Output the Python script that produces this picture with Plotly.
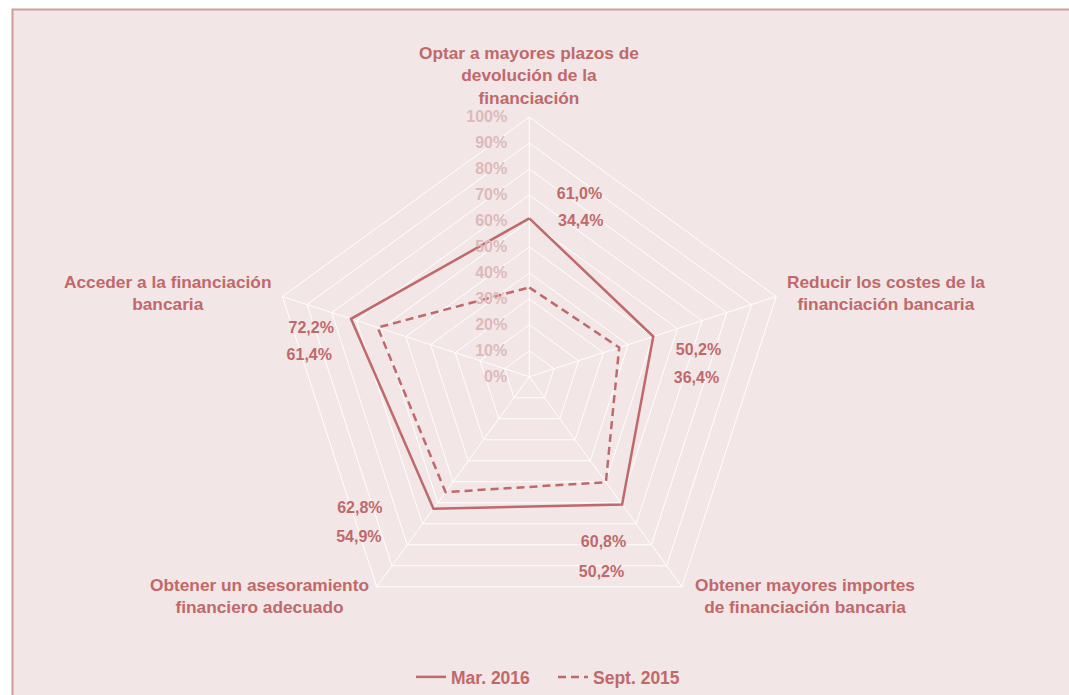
import math
import plotly.graph_objects as go

# ---- data ----
categories = [
    "Optar a mayores plazos de<br>devolución de la<br>financiación",
    "Reducir los costes de la<br>financiación bancaria",
    "Obtener mayores importes<br>de financiación bancaria",
    "Obtener un asesoramiento<br>financiero adecuado",
    "Acceder a la financiación<br>bancaria",
]
series_names = ["Mar. 2016", "Sept. 2015"]
mar_2016 = [61.0, 50.2, 60.8, 62.8, 72.2]
sept_2015 = [34.4, 36.4, 50.2, 54.9, 61.4]
radial_ticks = [0, 10, 20, 30, 40, 50, 60, 70, 80, 90, 100]
radial_ticktext = [f"{v}%" for v in radial_ticks]

# ---- label placement (style) ----
cat_label_r = [116.0, 141.0, 135.6, 133.7, 142.9]
cat_label_theta = [0, 76.7, 128.6, 230.8, 283.1]
mar_label_r = [72.8, 65.9, 70.3, 82.7, 86.0]
mar_label_theta = [15.4, 81.4, 156.0, 232.1, 282.4]
sept_label_r = [62.7, 64.4, 80.6, 90.5, 85.1]
sept_label_theta = [18.4, 90.6, 159.8, 226.5, 275.3]

COLOR = "#C0696A"
BG = "#F2E6E6"
FONT = "Liberation Sans, Arial, sans-serif"
W, H = 1069, 695
cx, cy, R = 529.3, 377.3, 260.0
dom_x = [(cx - R) / W, (cx + R) / W]
dom_y = [1 - (cy + R) / H, 1 - (cy - R) / H]


def fmt(v):
    return f"{v:.1f}%".replace(".", ",")


def polar_to_paper(r, theta_deg):
    t = math.radians(theta_deg)
    px = cx + r / 100.0 * R * math.sin(t)
    py = cy - r / 100.0 * R * math.cos(t)
    return px / W, 1 - py / H


fig = go.Figure()

closed_cats = categories + categories[:1]
fig.add_trace(go.Scatterpolar(
    r=mar_2016 + mar_2016[:1], theta=closed_cats, mode="lines",
    name=series_names[0], line=dict(color=COLOR, width=2.5),
    subplot="polar", hoverinfo="skip"))
fig.add_trace(go.Scatterpolar(
    r=sept_2015 + sept_2015[:1], theta=closed_cats, mode="lines",
    name=series_names[1], line=dict(color=COLOR, width=2.5, dash="8px,5px"),
    subplot="polar", hoverinfo="skip"))

# data labels
fig.add_trace(go.Scatterpolar(
    r=mar_label_r, theta=mar_label_theta, mode="text",
    text=[fmt(v) for v in mar_2016], textposition="middle center",
    textfont=dict(family=FONT, size=16, color=COLOR, weight="bold"),
    subplot="polar2", showlegend=False, cliponaxis=False, hoverinfo="skip"))
fig.add_trace(go.Scatterpolar(
    r=sept_label_r, theta=sept_label_theta, mode="text",
    text=[fmt(v) for v in sept_2015], textposition="middle center",
    textfont=dict(family=FONT, size=16, color=COLOR, weight="bold"),
    subplot="polar2", showlegend=False, cliponaxis=False, hoverinfo="skip"))

# category labels (outside the radial range, so as annotations)
annotations = []
for cat, r, th in zip(categories, cat_label_r, cat_label_theta):
    ax, ay = polar_to_paper(r, th)
    annotations.append(dict(
        x=ax, y=ay, xref="paper", yref="paper", text=cat, showarrow=False,
        xanchor="center", yanchor="middle", align="center",
        font=dict(family=FONT, size=17.3, color=COLOR, weight="bold")))

fig.update_layout(
    width=W, height=H,
    margin=dict(l=0, r=0, t=0, b=0),
    paper_bgcolor="white",
    plot_bgcolor="rgba(0,0,0,0)",
    font=dict(family=FONT, size=16, color=COLOR),
    polar=dict(
        domain=dict(x=dom_x, y=dom_y),
        bgcolor="rgba(0,0,0,0)",
        gridshape="linear",
        angularaxis=dict(
            type="category", rotation=90, direction="clockwise",
            showticklabels=False, ticks="", showline=True,
            linecolor="white", linewidth=1,
            showgrid=True, gridcolor="white", gridwidth=1),
        radialaxis=dict(
            range=[0, 100], tickvals=radial_ticks, ticktext=radial_ticktext,
            angle=90, side="counterclockwise", showline=False,
            showgrid=True, gridcolor="white", gridwidth=1,
            ticks="outside", ticklen=16, tickcolor="rgba(0,0,0,0)",
            tickangle=90,
            tickfont=dict(family=FONT, size=16, color="#DDBABA", weight="bold")),
    ),
    polar2=dict(
        domain=dict(x=dom_x, y=dom_y),
        bgcolor="rgba(0,0,0,0)",
        angularaxis=dict(type="linear", rotation=90, direction="clockwise",
                         visible=False, thetaunit="degrees"),
        radialaxis=dict(range=[0, 100], visible=False),
    ),
    showlegend=True,
    legend=dict(
        orientation="h", x=553 / W, xanchor="center", y=1 - 678 / H, yanchor="middle",
        bgcolor="rgba(0,0,0,0)",
        font=dict(family=FONT, size=17.5, color=COLOR, weight="bold"),
        itemwidth=30, entrywidth=97, entrywidthmode="pixels"),
    annotations=annotations,
    shapes=[dict(
        type="rect", xref="paper", yref="paper",
        x0=12.5 / W, x1=1.01, y0=-0.01, y1=1 - 9.5 / H,
        fillcolor=BG, line=dict(color="#D49A9A", width=2), layer="below")],
)

fig.write_html(
    "out.html",
    config={"displayModeBar": False},
    post_script="document.body.style.margin='0';document.body.style.overflow='hidden';",
)
